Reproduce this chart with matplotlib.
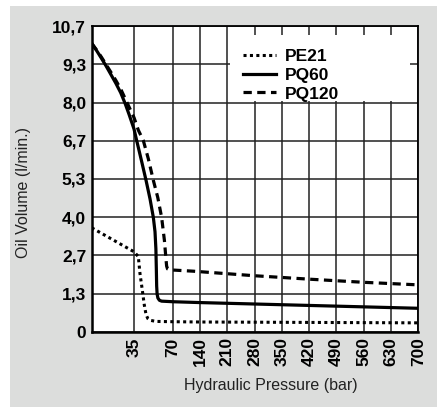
import numpy as np
import matplotlib
matplotlib.use("Agg")
import matplotlib.pyplot as plt
from matplotlib.patches import Rectangle

# data
pe21_p = [0, 35, 38.9, 40.4, 42.5, 44.3, 45.9, 47.5, 49.5, 55, 70, 140, 700]
pe21_v = [3.64, 2.8, 2.63, 2.04, 1.46, 0.94, 0.6, 0.46, 0.4, 0.36, 0.35, 0.34, 0.31]

pq60_p = [0, 4, 8, 12, 16, 20, 24, 27.6, 31, 35, 37.4, 42, 45.9, 49.5, 52.5, 54.0, 54.8, 55.2, 55.5, 55.9, 56.6, 58, 60, 70, 140, 280, 420, 560, 700]
pq60_v = [10.1, 9.85, 9.58, 9.3, 9.0, 8.7, 8.37, 8.0, 7.6, 7.1, 6.7, 5.95, 5.3, 4.65, 4.0, 3.5, 2.9, 2.2, 1.6, 1.32, 1.18, 1.1, 1.07, 1.05, 1.02, 0.97, 0.92, 0.87, 0.82]

pq120_p = [0, 4, 8, 12, 16, 20, 24, 29.5, 35, 38.9, 43.4, 48, 52.5, 56.5, 60, 62.5, 63.8, 64.5, 65.3, 67, 70, 122, 280, 420, 560, 700]
pq120_v = [10.1, 9.87, 9.62, 9.35, 9.08, 8.8, 8.5, 8.0, 7.5, 7.06, 6.7, 6.05, 5.3, 4.7, 4.0, 3.2, 2.6, 2.3, 2.2, 2.17, 2.16, 2.12, 1.96, 1.84, 1.73, 1.64]

x_ticks = [35, 70, 140, 210, 280, 350, 420, 490, 560, 630, 700]
y_labels = ["0", "1,3", "2,7", "4,0", "5,3", "6,7", "8,0", "9,3", "10,7"]

# the pressure axis is not linear: 0-35-70 get wider cells than the rest
knots_p = [0, 35, 70, 700]
knots_s = [0, 42.3, 81.0, 326.6]


def fwd(x):
    return np.interp(x, knots_p, knots_s)


def inv(s):
    return np.interp(s, knots_s, knots_p)


plt.rcParams["font.family"] = ["Liberation Sans", "DejaVu Sans"]

fig = plt.figure(figsize=(4.37, 4.07), dpi=100, facecolor="white")
fig.patches.append(Rectangle((10 / 437, 0), 1, 1 - 6 / 407, transform=fig.transFigure,
                             facecolor="#dcdddc", edgecolor="none", zorder=-10))
ax = fig.add_axes([91.7 / 437, 1 - 331.7 / 407, 326.6 / 437, 305.5 / 407])
ax.set_facecolor("white")

ax.set_xscale("function", functions=(fwd, inv))
ax.set_xlim(0, 700)
ax.set_ylim(0, 10.7)

ax.plot(pe21_p, pe21_v, color="black", lw=2.2, linestyle=(0, (1, 1.1)), label="PE21", zorder=3)
ax.plot(pq60_p, pq60_v, color="black", lw=2.3, label="PQ60", zorder=3)
ax.plot(pq120_p, pq120_v, color="black", lw=2.3, linestyle=(0, (2.6, 1.7)), label="PQ120", zorder=3)

ax.set_xticks(x_ticks)
ax.set_xticklabels([str(t) for t in x_ticks], rotation=90, fontweight="bold", fontsize=12.5)
ax.set_yticks(np.linspace(0, 10.7, 9))
ax.set_yticklabels(y_labels, fontweight="bold", fontsize=12.5)
ax.tick_params(length=0, pad=4)
ax.minorticks_off()

ax.set_axisbelow(True)
ax.grid(True, color="#222222", lw=1.1)
for s in ax.spines.values():
    s.set_linewidth(1.3)
ax.spines["left"].set_linewidth(1.8)
ax.spines["bottom"].set_linewidth(1.8)

ax.set_xlabel("Hydraulic Pressure (bar)", fontsize=11.5, color="#222222")
ax.set_ylabel("Oil Volume (l/min.)", fontsize=11.5, color="#222222")
ax.xaxis.set_label_coords(0.549, -0.152)
ax.yaxis.set_label_coords(-0.187, 0.457)

# white box behind the legend hides the grid
ax.add_patch(Rectangle((0.4235, 0.755), 0.551, 0.216, transform=ax.transAxes,
                       facecolor="white", edgecolor="none", zorder=1))
ax.legend(loc="upper left", bbox_to_anchor=(0.462, 0.925), frameon=False,
          prop={"weight": "bold", "size": 12.5},
          handlelength=1.9, handletextpad=0.55, labelspacing=0.2, borderpad=0, borderaxespad=0)

fig.savefig("out.png", dpi=100)
